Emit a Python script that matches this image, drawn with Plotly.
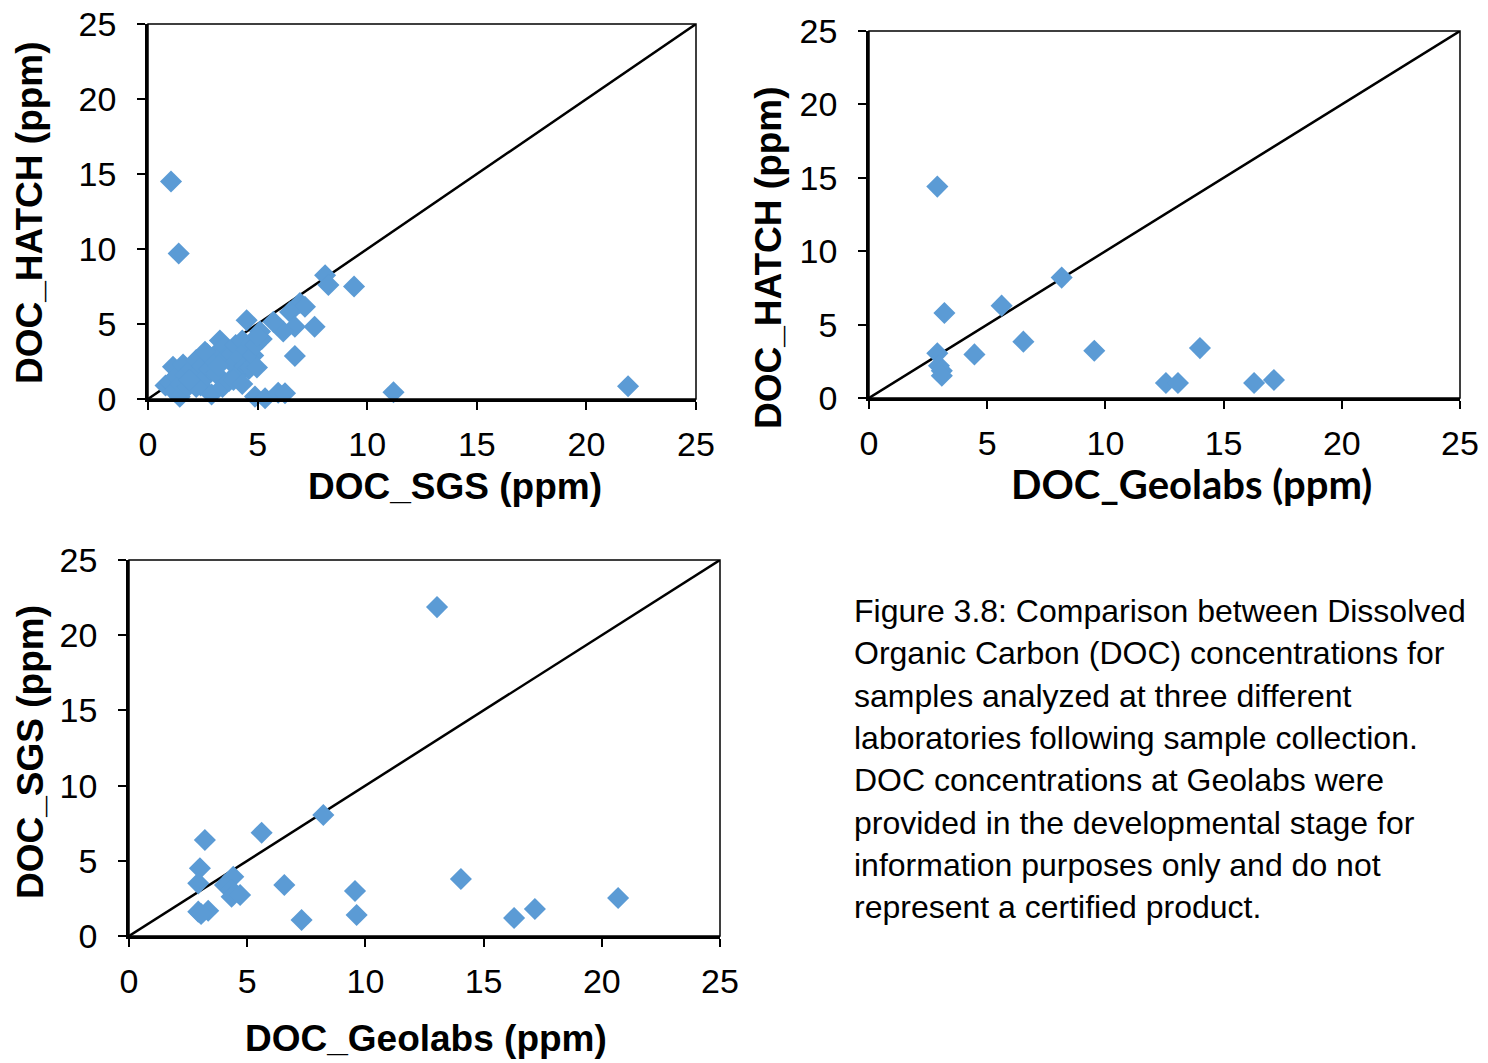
import plotly.graph_objects as go

W, H = 1488, 1063

# DOC_SGS vs DOC_HATCH (ppm)
sgs_1 = [1.05, 1.4, 21.9, 11.2, 9.4, 8.08, 8.23, 6.93, 7.16, 6.48, 6.7, 7.6, 6.17, 4.5,
         6.7, 4.88, 5.34, 5.94, 6.25, 5.72, 5.19, 5.11,
         0.8, 1.0, 1.14, 1.2, 1.3, 1.45, 1.5, 1.6, 1.7, 1.8, 1.9, 2.0, 2.1, 2.2, 2.3,
         2.4, 2.5, 2.6, 2.7, 2.8, 2.9, 3.0, 3.1, 3.28, 3.3, 3.4, 3.5, 3.6, 3.7, 3.8,
         3.9, 4.0, 4.1, 4.2, 4.3, 4.4, 4.5, 4.6, 4.65, 4.7, 4.8, 4.97, 2.6, 3.2,
         2.2, 1.9, 3.9, 4.3, 4.9, 5.0]
hatch_1 = [14.5, 9.7, 0.85, 0.45, 7.5, 8.25, 7.6, 6.4, 6.15, 5.8, 4.82, 4.82, 4.5, 5.25,
           2.87, 0.16, 0.05, 0.42, 0.38, 5.15, 4.0, 4.5,
           0.9, 1.1, 2.15, 0.5, 1.5, 0.15, 1.0, 2.3, 1.6, 0.8, 1.3, 2.0, 1.0, 2.6, 1.7,
           0.9, 2.2, 1.4, 3.0, 2.0, 0.3, 2.6, 1.7, 3.9, 3.3, 0.8, 3.5, 2.8, 1.2, 3.0,
           2.3, 3.6, 1.6, 2.8, 3.9, 2.2, 3.3, 2.0, 2.1, 3.7, 2.9, 2.1, 3.15, 2.2,
           0.8, 1.27, 1.27, 1.0, 3.6, 4.2]

# DOC_Geolabs vs DOC_HATCH (ppm)
geo_2 = [2.89, 3.19, 5.61, 8.15, 2.89, 4.46, 6.53, 9.53, 2.96, 3.08, 3.08,
         14.0, 12.56, 13.07, 16.29, 17.13]
hatch_2 = [14.4, 5.79, 6.29, 8.2, 3.04, 2.97, 3.84, 3.22, 2.2, 1.86, 1.52,
           3.4, 1.02, 1.02, 1.02, 1.23]

# DOC_Geolabs vs DOC_SGS (ppm)
geo_3 = [3.21, 5.61, 8.22, 3.0, 2.93, 4.41, 4.06, 4.34, 4.34, 4.7, 6.57, 9.56,
         2.93, 3.35, 3.05, 7.3, 9.63, 13.03, 14.04, 16.29, 17.17, 20.69]
sgs_3 = [6.38, 6.87, 8.05, 4.5, 3.5, 3.94, 3.39, 3.06, 2.61, 2.73, 3.39, 2.99,
         1.62, 1.68, 1.46, 1.06, 1.4, 21.87, 3.79, 1.2, 1.8, 2.53]

one_to_one = [0, 25]
ticks = [0, 5, 10, 15, 20, 25]

caption_lines = [
    "Figure 3.8: Comparison between Dissolved",
    "Organic Carbon (DOC) concentrations for",
    "samples analyzed at three different",
    "laboratories following sample collection.",
    "DOC concentrations at Geolabs were",
    "provided in the developmental stage for",
    "information purposes only and do not",
    "represent a certified product.",
]

ARIAL = "Arial, Liberation Sans, sans-serif"
BLUE = "#5B9BD5"


def px_x(p):
    return p / W


def px_y(p):
    return 1 - p / H


# plot boxes in page pixels: left, right, top, bottom
boxes = [(148, 696, 24, 399), (869, 1460, 31, 398), (129, 720, 560, 936)]
series = [(sgs_1, hatch_1), (geo_2, hatch_2), (geo_3, sgs_3)]

fig = go.Figure()
for i, ((xs, ys), box) in enumerate(zip(series, boxes)):
    n = "" if i == 0 else str(i + 1)
    fig.add_trace(go.Scatter(x=one_to_one, y=one_to_one, mode="lines",
                             line=dict(color="black", width=2.5),
                             xaxis="x" + n, yaxis="y" + n, hoverinfo="skip"))
    fig.add_trace(go.Scatter(x=xs, y=ys, mode="markers",
                             marker=dict(symbol="diamond", size=17, color=BLUE),
                             xaxis="x" + n, yaxis="y" + n, cliponaxis=False))
    l, r, t, b = box
    axis_common = dict(range=[0, 25], tickvals=ticks, ticks="outside", ticklen=8,
                       tickwidth=1.5, tickcolor="black", showline=True,
                       linecolor="black", linewidth=2.5, showgrid=False,
                       zeroline=False, fixedrange=True, automargin=False,
                       ticklabeloverflow="allow",
                       tickfont=dict(family=ARIAL, size=34, color="black"))
    fig.update_layout(**{
        "xaxis" + n: dict(domain=[px_x(l), px_x(r)], anchor="y" + n,
                          ticklabelstandoff=5, **axis_common),
        "yaxis" + n: dict(domain=[px_y(b), px_y(t)], anchor="x" + n,
                          ticklabelstandoff=14, **axis_common),
    })
    fig.add_shape(type="rect", xref="x" + n + " domain", yref="y" + n + " domain",
                  x0=0, x1=1, y0=0, y1=1, line=dict(color="black", width=1.5))

# axis titles
titles = [
    ("DOC_SGS (ppm)", 455, 487, 0, ARIAL, 37),
    ("DOC_HATCH (ppm)", 30, 213, -90, ARIAL, 37),
    ("DOC_Geolabs (ppm)", 1191, 484, 0, "Lato, sans-serif", 40),
    ("DOC_HATCH (ppm)", 768, 258, -90, ARIAL, 37),
    ("DOC_Geolabs (ppm)", 426, 1038, 0, ARIAL, 37),
    ("DOC_SGS (ppm)", 30, 752, -90, ARIAL, 37),
]
for text, x, y, ang, fam, size in titles:
    fig.add_annotation(text="<b>" + text + "</b>", x=px_x(x), y=px_y(y),
                       xref="paper", yref="paper", showarrow=False, textangle=ang,
                       xanchor="center", yanchor="middle",
                       font=dict(family=fam, size=size, color="black"))

# caption
for k, line in enumerate(caption_lines):
    fig.add_annotation(text=line, x=px_x(852), y=px_y(611 + k * 42.3),
                       xref="paper", yref="paper", showarrow=False,
                       xanchor="left", yanchor="middle",
                       font=dict(family=ARIAL, size=32, color="black"))

fig.update_layout(width=W, height=H,
                  margin=dict(l=0, r=0, t=0, b=0, autoexpand=False),
                  paper_bgcolor="white", plot_bgcolor="white", showlegend=False)

# drop the default page margin so the figure sits at the window corner
fig.write_html("out.html", config={"displayModeBar": False},
               post_script="document.body.style.margin = '0px';")
